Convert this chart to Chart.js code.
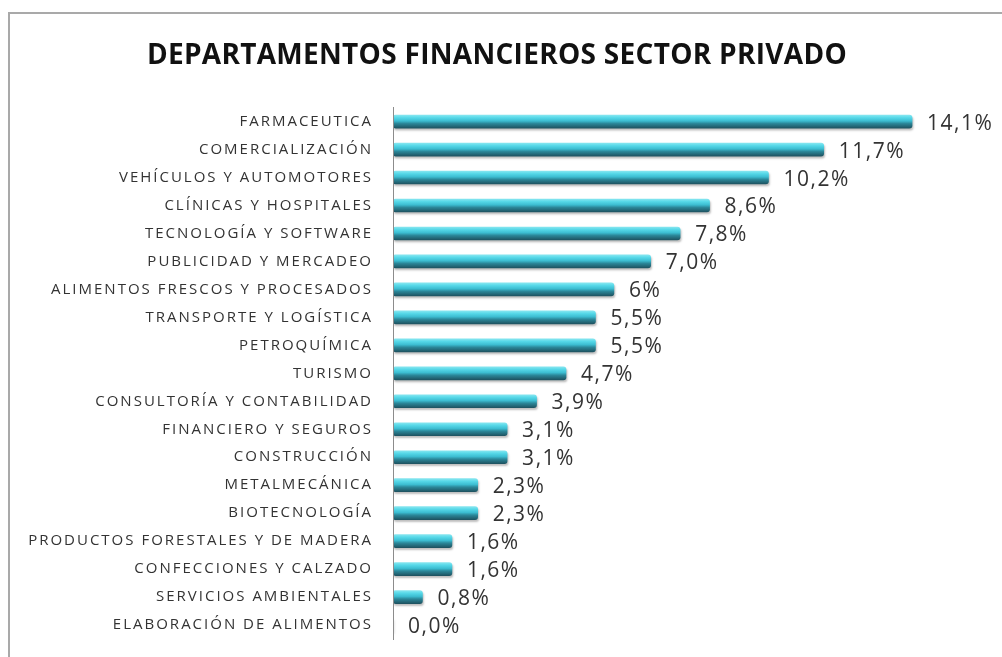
<html>

<head>
  <title>Departamentos financieros</title>
  <script src="https://cdn.jsdelivr.net/npm/chart.js"></script>
  <style>
    body { margin: 0; background: #fff; overflow: hidden; }
    #frame { position: absolute; left: 8px; top: 12px; width: 1100px; height: 800px; border: 2px solid #a9a9a9; }
    #sectorChart { position: absolute; left: 0; top: 0; }
  </style>
</head>

<body>
  <div id="frame"></div>
  <canvas id="sectorChart" width="1002" height="657"></canvas>

  <script>
    // sectores y porcentajes
    const sectores = [
      'FARMACEUTICA',
      'COMERCIALIZACIÓN',
      'VEHÍCULOS Y AUTOMOTORES',
      'CLÍNICAS Y HOSPITALES',
      'TECNOLOGÍA Y SOFTWARE',
      'PUBLICIDAD Y MERCADEO',
      'ALIMENTOS FRESCOS Y PROCESADOS',
      'TRANSPORTE Y LOGÍSTICA',
      'PETROQUÍMICA',
      'TURISMO',
      'CONSULTORÍA Y CONTABILIDAD',
      'FINANCIERO Y SEGUROS',
      'CONSTRUCCIÓN',
      'METALMECÁNICA',
      'BIOTECNOLOGÍA',
      'PRODUCTOS FORESTALES Y DE MADERA',
      'CONFECCIONES Y CALZADO',
      'SERVICIOS AMBIENTALES',
      'ELABORACIÓN DE ALIMENTOS'
    ];
    const porcentajes = [14.1, 11.7, 10.2, 8.6, 7.8, 7.0, 6, 5.5, 5.5, 4.7, 3.9, 3.1, 3.1, 2.3, 2.3, 1.6, 1.6, 0.8, 0.0];
    const etiquetas = ['14,1%', '11,7%', '10,2%', '8,6%', '7,8%', '7,0%', '6%', '5,5%', '5,5%', '4,7%', '3,9%', '3,1%', '3,1%', '2,3%', '2,3%', '1,6%', '1,6%', '0,8%', '0,0%'];

    // espaciado de letras: poco en el titulo, mas en las categorias (ticks dibujados despues de las barras)
    // el titulo se corre un poco a la derecha como en el original
    const spacingPlugin = {
      id: 'spacing',
      beforeDraw(chart) {
        chart.ctx.letterSpacing = '0.3px';
        chart.ctx.translate(6, 0);
      },
      beforeDatasetsDraw(chart) {
        chart.ctx.translate(-6, 0);
      },
      afterDatasetsDraw(chart) {
        chart.ctx.letterSpacing = '2px';
      }
    };

    // sombra suave bajo las barras
    const shadowPlugin = {
      id: 'barShadow',
      beforeDatasetDraw(chart) {
        const ctx = chart.ctx;
        ctx.save();
        ctx.shadowColor = 'rgba(0,0,0,0.25)';
        ctx.shadowOffsetY = 2;
        ctx.shadowOffsetX = 1;
        ctx.shadowBlur = 2;
      },
      afterDatasetDraw(chart) {
        chart.ctx.restore();
      }
    };

    // porcentajes al final de cada barra
    const valueLabels = {
      id: 'valueLabels',
      afterDatasetsDraw(chart) {
        const ctx = chart.ctx;
        const meta = chart.getDatasetMeta(0);
        ctx.save();
        ctx.font = '21px "Open Sans"';
        ctx.fillStyle = '#333333';
        ctx.textAlign = 'left';
        ctx.textBaseline = 'middle';
        ctx.letterSpacing = '1.5px';
        meta.data.forEach((bar, i) => {
          ctx.fillText(etiquetas[i], bar.x + 15, bar.y + 2);
        });
        ctx.restore();
      }
    };

    const barColor = (c) => {
      const chart = c.chart;
      const yScale = chart.scales.y;
      if (!yScale || c.dataIndex === undefined) return '#45c8d8';
      const cy = yScale.getPixelForValue(c.dataIndex);
      if (!isFinite(cy)) return '#45c8d8';
      const g = chart.ctx.createLinearGradient(0, cy - 6.5, 0, cy + 6.5);
      g.addColorStop(0, '#86e6f0');
      g.addColorStop(0.2, '#56d8e8');
      g.addColorStop(0.45, '#3cbdd1');
      g.addColorStop(0.65, '#2b8799');
      g.addColorStop(1, '#1e5361');
      return g;
    };

    new Chart(document.getElementById('sectorChart'), {
      type: 'bar',
      data: {
        labels: sectores,
        datasets: [{
          data: porcentajes,
          backgroundColor: barColor,
          barThickness: 13,
          borderRadius: 3,
          borderSkipped: false
        }]
      },
      options: {
        indexAxis: 'y',
        responsive: false,
        animation: false,
        layout: { padding: { left: 0, right: 20, top: 0, bottom: 18 } },
        plugins: {
          legend: { display: false },
          tooltip: { enabled: false },
          title: {
            display: true,
            text: 'DEPARTAMENTOS FINANCIEROS SECTOR PRIVADO',
            color: '#111111',
            font: { family: 'Open Sans', size: 28, weight: 'bold', lineHeight: 1.2 },
            padding: { top: 39, bottom: 35 }
          }
        },
        scales: {
          x: {
            display: false,
            min: 0,
            max: 16
          },
          y: {
            afterFit(scale) {
              scale.width = 393;
              scale.paddingTop = 0;
              scale.paddingBottom = 0;
            },
            grid: { display: false, drawTicks: false },
            border: { display: true, color: '#8c8c8c', width: 1, z: 1 },
            ticks: {
              z: 1,
              padding: 20,
              color: '#333333',
              font: { family: 'Open Sans', size: 15 }
            }
          }
        }
      },
      plugins: [spacingPlugin, shadowPlugin, valueLabels]
    });
  </script>
</body>

</html>
